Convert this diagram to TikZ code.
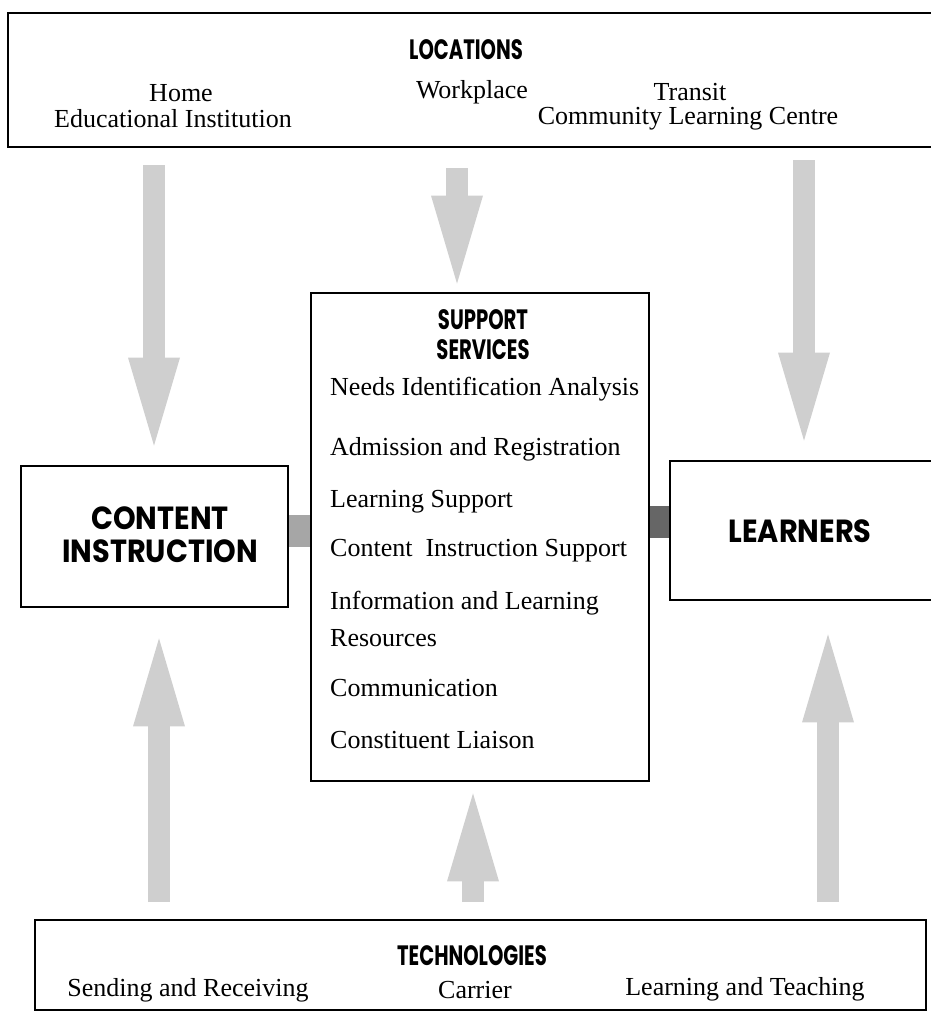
\documentclass[tikz,border=0pt]{standalone}
\usepackage{fontspec}
\setmainfont{Liberation Serif}
\newfontfamily\headfont[FakeStretch=0.7]{Poppins}
\newfontfamily\bigheadfont[FakeStretch=0.9]{Poppins}
\usetikzlibrary{arrows.meta,positioning}
\tikzset{%
  box/.style={draw, line width=2.8pt, inner sep=0pt},
  head/.style={font=\headfont\bfseries\fontsize{28}{30}\selectfont, align=center, inner sep=0pt},
  bighead/.style={font=\bigheadfont\bfseries\fontsize{32}{33}\selectfont, align=center, inner sep=0pt},
  entry/.style={font=\fontsize{26}{28}\selectfont, inner sep=0pt},
  item/.style={entry, anchor=west},
  flow/.style={draw=gray!38, line width=22pt, -{Triangle[length=88pt,width=52pt,line width=0pt]}},
  linkbar/.style={line width=32pt}
}
\begin{document}
\begin{tikzpicture}[x=1pt,y=-1pt]
    \useasboundingbox (0,0) rectangle (931,1014);
    % boxes
    \node[box, minimum width=932pt, minimum height=134pt] (loc) at (474,80) {};
    \node[box, minimum width=267pt, minimum height=141pt] (content) at (154.5,536.5) {};
    \node[box, minimum width=338pt, minimum height=488pt] (support) at (480,537) {};
    \node[box, minimum width=265pt, minimum height=139pt] (learners) at (802.5,530.5) {};
    \node[box, minimum width=891pt, minimum height=90pt] (tech) at (480.5,965) {};

    % locations
    \node[head] (locT) at (466,50) {LOCATIONS};
    \node[entry] (home) at (181,93) {Home};
    \node[entry] (edu) at (173,119) {Educational Institution};
    \node[entry] (work) at (472,92) {Workplace};
    \node[entry] (transit) at (690,92) {Transit};
    \node[entry] (clc) at (688,119) {Community Learning Centre};

    % middle row
    \node[bighead] (contentT) at (160,535) {CONTENT\\INSTRUCTION};
    \node[bighead] (learnersT) at (800,531) {LEARNERS};
    \node[head] (supportT) at (483,335) {SUPPORT\\SERVICES};
    \node[item] (s1) at (330,389) {Needs Identification Analysis};
    \node[item] (s2) at (330,449) {Admission and Registration};
    \node[item] (s3) at (330,502) {Learning Support};
    \node[item] (s4) at (330,551) {Content\ \ Instruction Support};
    \node[item] (s5) at (330,603) {Information and Learning};
    \node[item] (s6) at (330,638) {Resources};
    \node[item] (s7) at (330,688) {Communication};
    \node[item] (s8) at (330,740) {Constituent Liaison};

    % technologies
    \node[head] (techT) at (472,956) {TECHNOLOGIES};
    \node[entry] (send) at (188,990) {Sending and Receiving};
    \node[entry] (carrier) at (475,990) {Carrier};
    \node[entry] (teach) at (745,989) {Learning and Teaching};

    % links between boxes
    \coordinate (cs) at (300,531);
    \coordinate (sl) at (660,522);
    \draw[linkbar, draw=black!35] (content.east |- cs) -- (support.west |- cs);
    \draw[linkbar, draw=black!60] (support.east |- sl) -- (learners.west |- sl);

    % flows from locations
    \coordinate (lA) at (154,165);
    \coordinate (lB) at (457,168);
    \coordinate (lC) at (804,160);
    \draw[flow, shorten >=19pt] (lA) -- (content.north -| lA);
    \draw[flow, shorten >=8pt] (lB) -- (support.north -| lB);
    \draw[flow, shorten >=19pt] (lC) -- (learners.north -| lC);

    % flows from technologies
    \coordinate (tA) at (159,902);
    \coordinate (tB) at (473,902);
    \coordinate (tC) at (828,902);
    \draw[flow, shorten >=30pt] (tA) -- (content.south -| tA);
    \draw[flow, shorten >=11pt] (tB) -- (support.south -| tB);
    \draw[flow, shorten >=33pt] (tC) -- (learners.south -| tC);
\end{tikzpicture}
\end{document}
